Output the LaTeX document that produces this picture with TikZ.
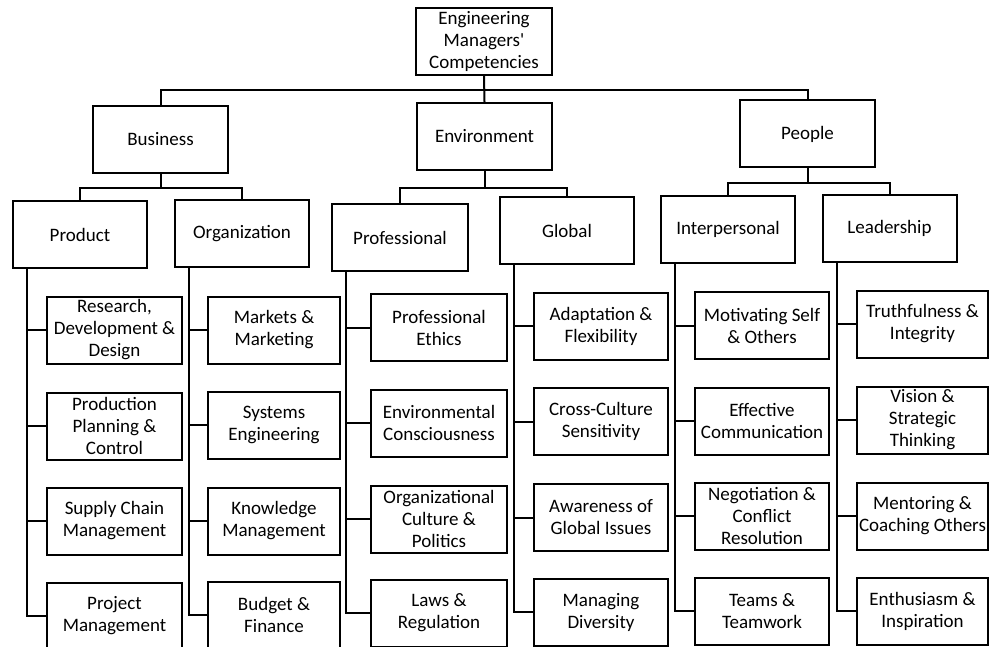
\documentclass[tikz,border=0pt]{standalone}
\usepackage{fontspec}
\setmainfont{Carlito}
\usetikzlibrary{calc}
\begin{document}
\begin{tikzpicture}[x=1pt,y=-1pt,
  box/.style={draw, line width=2pt, minimum width=134pt, minimum height=67pt, inner sep=0pt, align=center,
    font=\fontsize{19pt}{22pt}\selectfont},
  conn/.style={line width=2pt}]
\useasboundingbox (0,0) rectangle (990,647);
\fill[white] (0,0) rectangle (990,647);
\clip (0,0) rectangle (990,647);
% top
\node[box, minimum width=136pt] (root) at (484,41.5) {Engineering\\Managers\textquotesingle\\Competencies};
\node[box, minimum width=135pt] (bus) at (160.5,139.5) {Business};
\node[box, minimum width=135pt] (env) at (484.5,136.5) {Environment};
\node[box, minimum width=135pt] (peo) at (807.5,134) {People};
% second level
\node[box] (prod) at (80,234.5) {Product};
\node[box] (org) at (242,233.5) {Organization};
\node[box, minimum width=136pt] (prof) at (400,237.5) {Professional};
\node[box] (glob) at (567,230.5) {Global};
\node[box] (inter) at (728,229.5) {Interpersonal};
\node[box] (lead) at (889.5,228.5) {Leadership};
% leaves: Product
\node[box, minimum width=135pt] (p1) at (114.5,330) {Research,\\Development \&\\Design};
\node[box, minimum width=135pt] (p2) at (114.5,426) {Production\\Planning \&\\Control};
\node[box, minimum width=135pt] (p3) at (114.5,521) {Supply Chain\\Management};
\node[box, minimum width=135pt] (p4) at (114.5,616) {Project\\Management};
% Organization
\node[box, minimum width=132pt] (o1) at (274,330) {Markets \&\\Marketing};
\node[box, minimum width=132pt] (o2) at (274,425) {Systems\\Engineering};
\node[box, minimum width=132pt] (o3) at (274,521) {Knowledge\\Management};
\node[box, minimum width=132pt] (o4) at (274,615) {Budget \&\\Finance};
% Professional
\node[box, minimum width=136pt] (r1) at (439,327.5) {Professional\\Ethics};
\node[box, minimum width=136pt] (r2) at (439,423) {Environmental\\Consciousness};
\node[box, minimum width=136pt] (r3) at (439,519) {Organizational\\Culture \&\\Politics};
\node[box, minimum width=136pt] (r4) at (439,613) {Laws \&\\Regulation};
% Global
\node[box] (g1) at (601,326) {Adaptation \&\\Flexibility};
\node[box] (g2) at (601,421.5) {Cross-Culture\\Sensitivity};
\node[box] (g3) at (601,517.5) {Awareness of\\Global Issues};
\node[box] (g4) at (601,612) {Managing\\Diversity};
% Interpersonal
\node[box] (i1) at (762,325.5) {Motivating Self\\\& Others};
\node[box] (i2) at (762,421) {Effective\\Communication};
\node[box] (i3) at (762,516) {Negotiation \&\\Conflict\\Resolution};
\node[box] (i4) at (762,611) {Teams \&\\Teamwork};
% Leadership
\node[box, minimum width=131pt] (l1) at (922.5,324) {Truthfulness \&\\Integrity};
\node[box, minimum width=131pt] (l2) at (922.5,420) {Vision \&\\Strategic\\Thinking};
\node[box, minimum width=131pt] (l3) at (922.5,516) {Mentoring \&\\Coaching Others};
\node[box, minimum width=131pt] (l4) at (922.5,611) {Enthusiasm \&\\Inspiration};
% top connectors
\coordinate (tb) at ($(root.south)+(0,14.5)$);
\draw[conn] (root.south) -- (env.north);
\draw[conn] (bus.north) |- (tb) -| (peo.north);
% level 2 connectors
\coordinate (bb) at ($(bus.south)+(0,14)$);
\draw[conn] (bus.south) -- (bb);
\draw[conn] (prod.north) |- (bb) -| (org.north);
\coordinate (eb) at ($(env.south)+(0,17)$);
\draw[conn] (env.south) -- (eb);
\draw[conn] (prof.north) |- (eb) -| (glob.north);
\coordinate (pb) at ($(peo.south)+(0,15)$);
\draw[conn] (peo.south) -- (pb);
\draw[conn] (inter.north) |- (pb) -| (lead.north);
% trunks
\foreach \pp/\lf in {prod/p, org/o, prof/r, glob/g, inter/i, lead/l}{
  \coordinate (t\pp) at ($(\pp.south west)+(15,0)$);
  \draw[conn] (t\pp) |- (\lf4.west);
  \foreach \k in {1,2,3}{
    \draw[conn] (t\pp |- \lf\k.west) -- (\lf\k.west);
  }
}
\end{tikzpicture}
\end{document}
